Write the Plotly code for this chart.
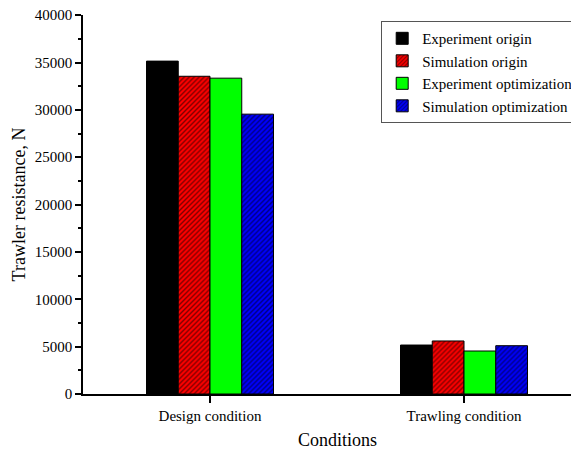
import plotly.graph_objects as go

categories = ["Design condition", "Trawling condition"]
series_names = ["Experiment origin", "Simulation origin",
                "Experiment optimization", "Simulation optimization"]
exp_origin = [35150, 5170]
sim_origin = [33550, 5600]
exp_opt = [33350, 4540]
sim_opt = [29550, 5100]
y_ticks = [0, 5000, 10000, 15000, 20000, 25000, 30000, 35000, 40000]
y_tick_labels = ["0", "5000", "10000", "15000", "20000", "25000", "30000", "35000", "40000"]

values = [exp_origin, sim_origin, exp_opt, sim_opt]
colors = ["#000000", "#ff0000", "#00ff00", "#0000ff"]
patterns = ["", "/", "", "/"]

FONT = "Liberation Serif, Times New Roman, serif"

fig = go.Figure()
for name, vals, col, pat in zip(series_names, values, colors, patterns):
    marker = dict(color=col, line=dict(color="black", width=1))
    if pat:
        marker["pattern"] = dict(shape=pat, fgcolor="black", bgcolor=col,
                                 size=3.5, solidity=0.4, fillmode="overlay")
    fig.add_trace(go.Bar(x=categories, y=vals, name=name, marker=marker))

fig.update_layout(
    width=584, height=442,
    margin=dict(l=75, r=1, t=7, b=56, autoexpand=False),
    paper_bgcolor="white", plot_bgcolor="white",
    barmode="group", bargap=0.5, bargroupgap=0,
    font=dict(family=FONT, size=15, color="black"),
    legend=dict(x=0.587, y=0.984, xanchor="left", yanchor="top",
                bgcolor="white", bordercolor="#555", borderwidth=1,
                font=dict(family=FONT, size=15), tracegroupgap=0),
    xaxis=dict(range=[-0.5, 1.5], showline=True, linecolor="black", linewidth=1.5,
               ticks="outside", ticklen=7, tickwidth=1.5, tickcolor="black",
               tickfont=dict(family=FONT, size=15), showgrid=False, zeroline=False),
    yaxis=dict(range=[0, 40020], tickvals=y_ticks, ticktext=y_tick_labels, showline=True,
               linecolor="black", linewidth=1.5, ticks="outside", ticklen=6, tickwidth=1.5,
               tickcolor="black", tickfont=dict(family=FONT, size=15), showgrid=False,
               zeroline=False, ticklabeloverflow="allow",
               minor=dict(dtick=2500, ticks="outside", ticklen=3, tickwidth=1.5,
                          tickcolor="black", showgrid=False),
               title=dict(text="Trawler resistance, N", font=dict(family=FONT, size=18),
                          standoff=4)),
    annotations=[dict(text="Conditions", xref="paper", yref="paper", x=0.5, y=-0.121,
                      xanchor="center", yanchor="middle", showarrow=False,
                      font=dict(family=FONT, size=18))],
)

fig.write_html("out.html")
